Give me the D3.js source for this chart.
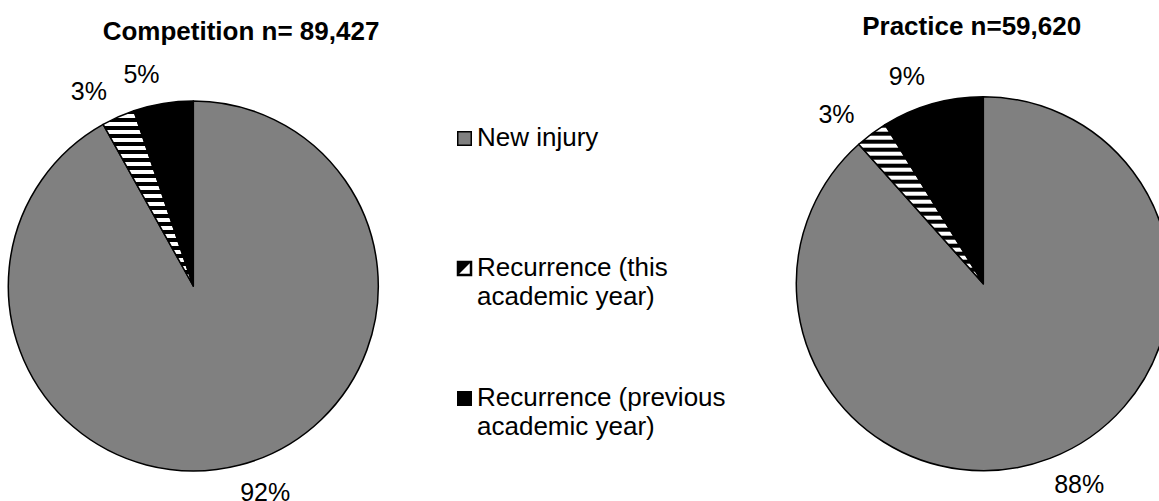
<!DOCTYPE html>
<html>
<head>
<meta charset="utf-8">
<script src="https://cdn.jsdelivr.net/npm/d3@7"></script>
<style>
  body { margin: 0; background: #fff; }
  text { font-family: "Liberation Sans", Arial, sans-serif; fill: #000; }
</style>
</head>
<body>
<svg id="chart"></svg>
<script>
const width = 1159;
const height = 501;

// data
const categories = ['New injury', 'Recurrence (this academic year)', 'Recurrence (previous academic year)'];
const legendLines = [['New injury'], ['Recurrence (this', 'academic year)'], ['Recurrence (previous', 'academic year)']];
const competition = [91.9, 2.9, 5.2];
const practice = [88.4, 2.8, 8.8];
const titles = ['Competition n= 89,427', 'Practice n=59,620'];

const fills = ['#808080', 'url(#hatch)', '#000000'];

const svg = d3.select('#chart')
            .attr('width', width)
            .attr('height', height);

const defs = svg.append('defs');
const hatch = defs.append('pattern')
    .attr('id', 'hatch')
    .attr('patternUnits', 'userSpaceOnUse')
    .attr('width', 8)
    .attr('height', 8);
hatch.append('rect').attr('width', 8).attr('height', 8).attr('fill', '#fff');
hatch.append('rect').attr('width', 8).attr('height', 4).attr('fill', '#000');

const pies = [
  {title: titles[0], values: competition, cx: 193.3, cy: 286, r: 185, tx: 241, ty: 40},
  {title: titles[1], values: practice, cx: 983.3, cy: 283.7, r: 187, tx: 971.7, ty: 35}
];

const pie = d3.pie().sort(null).value(d => d);
const fmt = v => d3.format('.0f')(v) + '%';
const labelPad = 13;
const labelShift = 4.5 * Math.PI / 180;

pies.forEach(p => {
  svg.append('text')
     .attr('x', p.tx)
     .attr('y', p.ty)
     .attr('text-anchor', 'middle')
     .style('font-size', '26px')
     .style('font-weight', 'bold')
     .text(p.title);

  const g = svg.append('g').attr('transform', `translate(${p.cx},${p.cy})`);
  const arc = d3.arc().innerRadius(0).outerRadius(p.r);
  const arcs = pie(p.values);

  g.selectAll('path')
   .data(arcs)
   .enter().append('path')
   .attr('d', arc)
   .attr('fill', (d, i) => fills[i])
   .attr('stroke', '#000')
   .attr('stroke-width', 1.5)
   .attr('stroke-linejoin', 'round');

  // labels outside the end, box edge kept a fixed gap from the rim
  g.selectAll('text.lbl')
   .data(arcs)
   .enter().append('text')
   .attr('class', 'lbl')
   .attr('text-anchor', 'middle')
   .style('font-size', '25px')
   .text(d => fmt(d.data))
   .each(function(d) {
      const w = this.getComputedTextLength();
      const h = 29;
      const a = (d.startAngle + d.endAngle) / 2 - labelShift;
      const s = Math.sin(a), c = Math.cos(a);
      const dist = p.r + labelPad + Math.abs(w / 2 * s) + Math.abs(h / 2 * c);
      d3.select(this)
        .attr('x', dist * s)
        .attr('y', -dist * c + 7);
   });
});

// legend
const legend = svg.append('g');
const legendY = d3.scaleOrdinal().domain(categories).range([146, 276, 406]);

categories.forEach((cat, i) => {
  const y = legendY(cat);
  const box = legend.append('g').attr('transform', `translate(457,${y - 15})`);
  if (i === 1) {
    box.append('rect').attr('x', 0.75).attr('y', 0.75).attr('width', 13.5).attr('height', 13.5)
       .attr('fill', '#fff');
    box.append('path').attr('d', 'M0,0H15L0,15Z').attr('fill', '#000');
    box.append('rect').attr('x', 1).attr('y', 1).attr('width', 13).attr('height', 13)
       .attr('fill', 'none').attr('stroke', '#000').attr('stroke-width', 2.5);
  } else {
    box.append('rect').attr('x', 0.75).attr('y', 0.75).attr('width', 13.5).attr('height', 13.5)
       .attr('fill', fills[i]).attr('stroke', '#000').attr('stroke-width', 1.5);
  }
  const t = legend.append('text')
      .attr('x', 477)
      .attr('y', y)
      .style('font-size', '26px');
  legendLines[i].forEach((line, j) => {
    t.append('tspan').attr('x', 477).attr('y', y + j * 29).text(line);
  });
});
</script>
</body>
</html>
